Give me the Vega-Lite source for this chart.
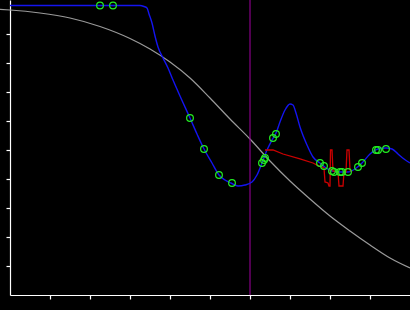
{
  "$schema": "https://vega.github.io/schema/vega-lite/v6.json",
  "width": 400,
  "height": 295,
  "autosize": {"type": "none"},
  "padding": {"left": 10, "top": 0, "right": 0, "bottom": 15},
  "background": "black",
  "config": {
    "view": {"stroke": null},
    "axis": {"domainColor": "white", "tickColor": "white", "domainWidth": 1.2, "tickWidth": 1.2, "tickSize": 4, "tickRound": true, "labels": false, "grid": false, "title": null}
  },
  "datasets": {
    "gray": [
      {"x": -0.025, "y": 0.985}, {"x": 0, "y": 0.9828}, {"x": 0.075, "y": 0.9724}, {"x": 0.15, "y": 0.9552},
      {"x": 0.225, "y": 0.9259}, {"x": 0.3, "y": 0.8845}, {"x": 0.35, "y": 0.8483}, {"x": 0.4, "y": 0.8034},
      {"x": 0.45, "y": 0.7483}, {"x": 0.5, "y": 0.6793}, {"x": 0.55, "y": 0.6069}, {"x": 0.6, "y": 0.5379},
      {"x": 0.65, "y": 0.4621}, {"x": 0.7, "y": 0.3931}, {"x": 0.75, "y": 0.331}, {"x": 0.8, "y": 0.2724},
      {"x": 0.85, "y": 0.2207}, {"x": 0.9, "y": 0.1724}, {"x": 0.95, "y": 0.1276}, {"x": 1.0, "y": 0.0931}
    ],
    "blue": [
      {"x": 0, "y": 0.9983}, {"x": 0.325, "y": 0.9983}, {"x": 0.335, "y": 0.9948}, {"x": 0.3425, "y": 0.9897},
      {"x": 0.3475, "y": 0.969}, {"x": 0.355, "y": 0.9379}, {"x": 0.3625, "y": 0.8931}, {"x": 0.37, "y": 0.8552},
      {"x": 0.3825, "y": 0.8172}, {"x": 0.395, "y": 0.7828}, {"x": 0.4075, "y": 0.7414}, {"x": 0.425, "y": 0.6862},
      {"x": 0.45, "y": 0.6103}, {"x": 0.4675, "y": 0.5552}, {"x": 0.485, "y": 0.5034}, {"x": 0.505, "y": 0.4552},
      {"x": 0.5225, "y": 0.4138}, {"x": 0.5375, "y": 0.3966}, {"x": 0.5525, "y": 0.3862}, {"x": 0.57, "y": 0.3759},
      {"x": 0.5875, "y": 0.3793}, {"x": 0.605, "y": 0.3897}, {"x": 0.6175, "y": 0.4138}, {"x": 0.63, "y": 0.4552},
      {"x": 0.6425, "y": 0.5}, {"x": 0.655, "y": 0.5345}, {"x": 0.665, "y": 0.5586}, {"x": 0.675, "y": 0.5966},
      {"x": 0.6875, "y": 0.6379}, {"x": 0.7, "y": 0.6586}, {"x": 0.7075, "y": 0.6552}, {"x": 0.715, "y": 0.6276},
      {"x": 0.725, "y": 0.5793}, {"x": 0.7425, "y": 0.5172}, {"x": 0.7575, "y": 0.4759}, {"x": 0.775, "y": 0.4552},
      {"x": 0.79, "y": 0.4379}, {"x": 0.805, "y": 0.4276}, {"x": 0.825, "y": 0.4241}, {"x": 0.845, "y": 0.4241},
      {"x": 0.8625, "y": 0.4345}, {"x": 0.88, "y": 0.4552}, {"x": 0.9, "y": 0.4862}, {"x": 0.92, "y": 0.5034},
      {"x": 0.94, "y": 0.5069}, {"x": 0.955, "y": 0.5034}, {"x": 0.97, "y": 0.4862}, {"x": 0.985, "y": 0.469},
      {"x": 1.0, "y": 0.4552}
    ],
    "red": [
      {"x": 0.6375, "y": 0.5}, {"x": 0.6575, "y": 0.5}, {"x": 0.6825, "y": 0.4862}, {"x": 0.725, "y": 0.469},
      {"x": 0.7575, "y": 0.4552}, {"x": 0.77, "y": 0.4459}, {"x": 0.785, "y": 0.4379}, {"x": 0.7875, "y": 0.3897},
      {"x": 0.795, "y": 0.3862}, {"x": 0.7975, "y": 0.3759}, {"x": 0.8, "y": 0.3759}, {"x": 0.80125, "y": 0.5},
      {"x": 0.805, "y": 0.5}, {"x": 0.8075, "y": 0.4276}, {"x": 0.82, "y": 0.4241}, {"x": 0.8225, "y": 0.3759},
      {"x": 0.8325, "y": 0.3759}, {"x": 0.835, "y": 0.4241}, {"x": 0.84, "y": 0.4241}, {"x": 0.8425, "y": 0.5},
      {"x": 0.8475, "y": 0.5}, {"x": 0.85, "y": 0.431}, {"x": 0.855, "y": 0.4241}
    ],
    "pts": [
      {"x": 0.225, "y": 0.9983}, {"x": 0.2575, "y": 0.9983}, {"x": 0.45, "y": 0.6103}, {"x": 0.485, "y": 0.5034},
      {"x": 0.5225, "y": 0.4138}, {"x": 0.555, "y": 0.3862}, {"x": 0.63, "y": 0.4552}, {"x": 0.635, "y": 0.4655},
      {"x": 0.6375, "y": 0.4724}, {"x": 0.6575, "y": 0.5414}, {"x": 0.665, "y": 0.5552}, {"x": 0.775, "y": 0.4552},
      {"x": 0.785, "y": 0.4448}, {"x": 0.805, "y": 0.4276}, {"x": 0.81, "y": 0.4241}, {"x": 0.825, "y": 0.4241},
      {"x": 0.83, "y": 0.4241}, {"x": 0.845, "y": 0.4241}, {"x": 0.87, "y": 0.4414}, {"x": 0.88, "y": 0.4552},
      {"x": 0.915, "y": 0.5}, {"x": 0.92, "y": 0.5}, {"x": 0.94, "y": 0.5034}
    ],
    "vline": [{"x": 0.6}]
  },
  "layer": [
    {
      "data": {"name": "gray"},
      "mark": {"type": "line", "color": "#9a9a9a", "strokeWidth": 1.2, "interpolate": "monotone"},
      "encoding": {
        "x": {"field": "x", "type": "quantitative", "scale": {"domain": [0, 1], "nice": false, "zero": false},
              "axis": {"values": [0.1, 0.2, 0.3, 0.4, 0.5, 0.6, 0.7, 0.8, 0.9], "tickCount": 20}},
        "y": {"field": "y", "type": "quantitative", "scale": {"domain": [0, 1.0172413793], "nice": false, "zero": false},
              "axis": {"values": [0.1, 0.2, 0.3, 0.4, 0.5, 0.6, 0.7, 0.8, 0.9], "tickCount": 20}}
      }
    },
    {
      "data": {"name": "vline"},
      "mark": {"type": "rule", "color": "#880088", "strokeWidth": 1.2},
      "encoding": {"x": {"field": "x", "type": "quantitative"}}
    },
    {
      "data": {"name": "blue"},
      "mark": {"type": "line", "color": "#1414f0", "strokeWidth": 1.4, "interpolate": "monotone"},
      "encoding": {"x": {"field": "x", "type": "quantitative"}, "y": {"field": "y", "type": "quantitative"}}
    },
    {
      "data": {"name": "red"},
      "mark": {"type": "line", "color": "#cc0000", "strokeWidth": 1.3},
      "encoding": {"x": {"field": "x", "type": "quantitative"}, "y": {"field": "y", "type": "quantitative"}}
    },
    {
      "data": {"name": "pts"},
      "mark": {"type": "point", "shape": "circle", "filled": false, "color": "#22ee22", "size": 45, "strokeWidth": 1.2, "opacity": 1},
      "encoding": {"x": {"field": "x", "type": "quantitative"}, "y": {"field": "y", "type": "quantitative"}}
    }
  ]
}
